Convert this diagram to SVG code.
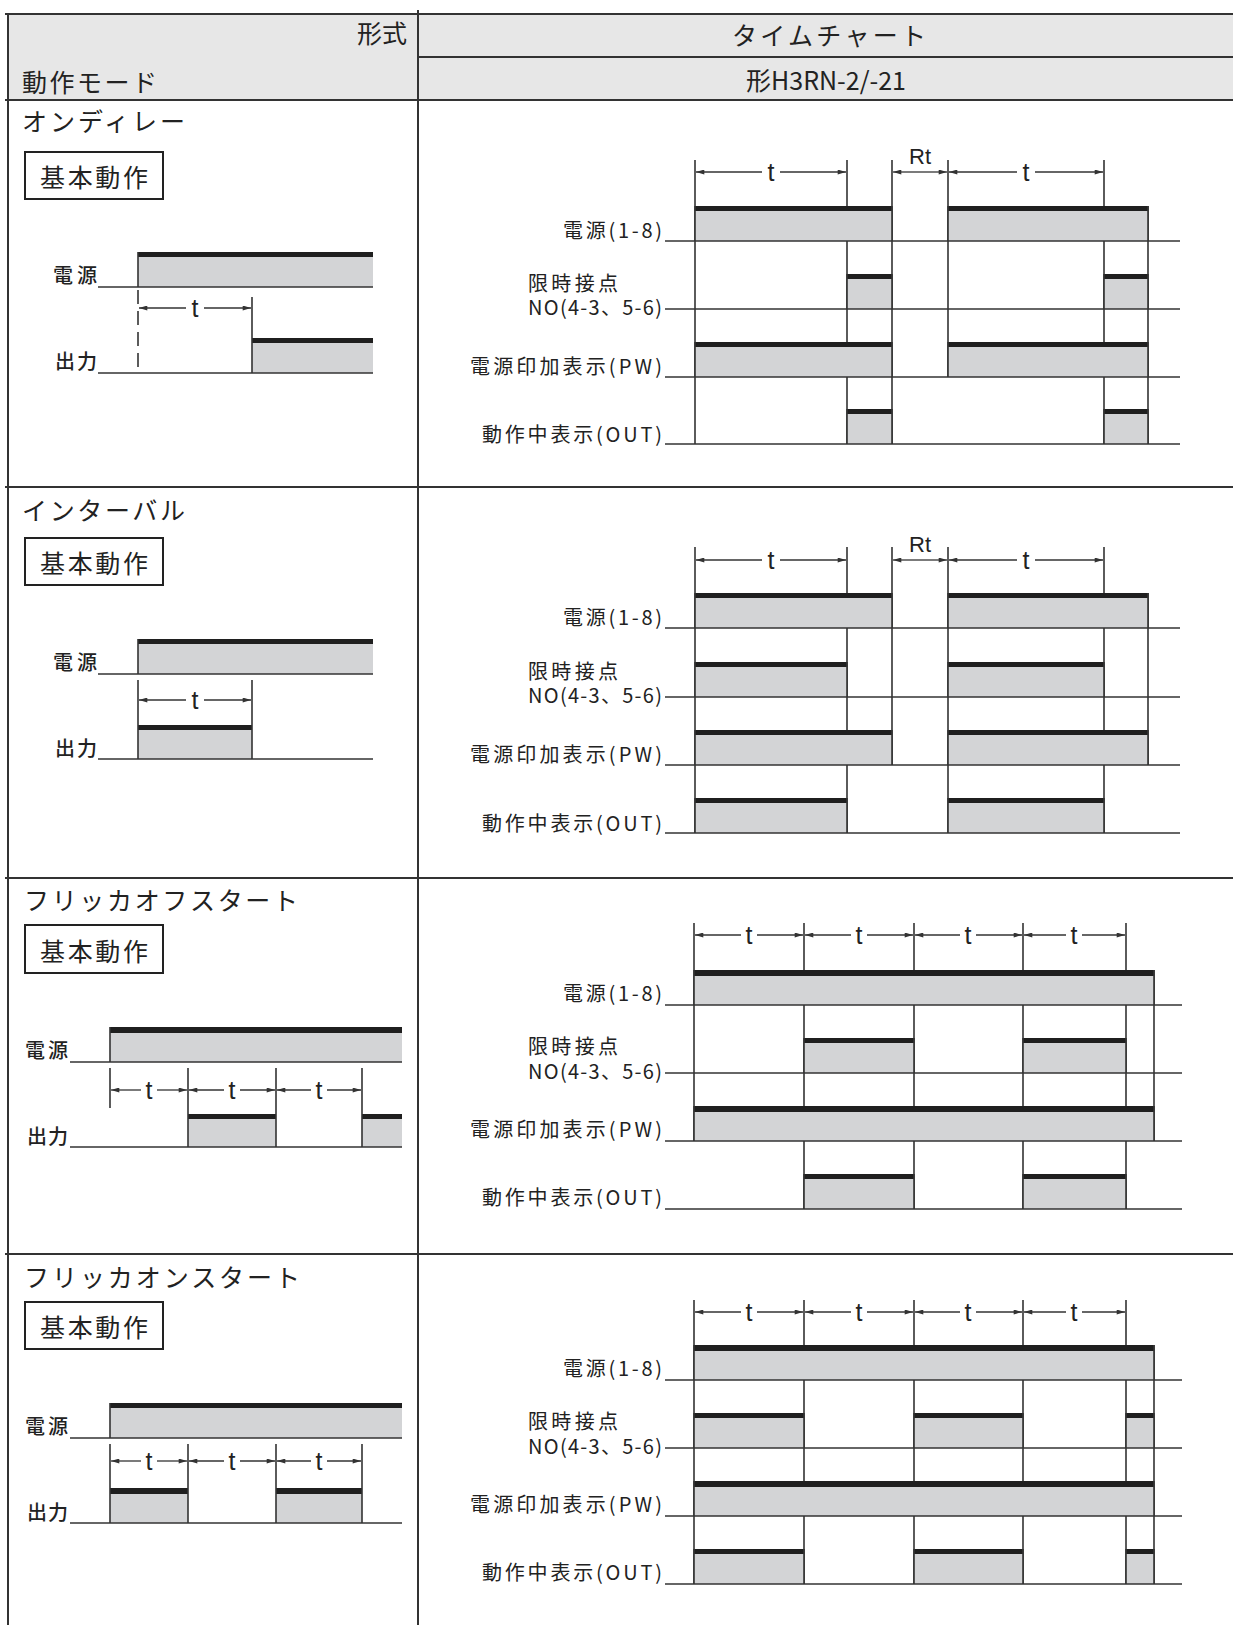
<svg xmlns="http://www.w3.org/2000/svg" width="1233" height="1625" viewBox="0 0 1233 1625">
<style>
text{font-family:"Noto Sans CJK JP","Noto Sans",sans-serif;fill:#222;font-weight:400}
.h{font-size:25px}
.ti{font-size:25px}
.lb{font-size:20px}
.ml{font-size:20px;font-weight:500}
.dt{font-size:25px;font-family:"Liberation Sans","Noto Sans",sans-serif;font-weight:400;text-anchor:middle}
.tb{stroke:#333;stroke-width:2;fill:none}
.gd{stroke:#333;stroke-width:1.6;fill:none}
.bl{stroke:#333;stroke-width:1.6;fill:none}
.fl{fill:#d3d4d6}
.tk{fill:#1f1f1f}
.dm{stroke:#333;stroke-width:1.3;fill:none;marker-end:url(#ah)}
.bx{stroke:#222;stroke-width:2;fill:#fff}
</style>
<defs>
<marker id="ah" viewBox="0 0 10 6" refX="10" refY="3" markerWidth="10" markerHeight="5" markerUnits="userSpaceOnUse" orient="auto"><path d="M0,0 L10,3 L0,6 z" fill="#333"/></marker>
</defs>
<rect x="0" y="0" width="1233" height="1625" fill="#fff"/>

<g id="table">
<rect x="8" y="14" width="1225" height="86" fill="#e7e7e7"/>
<line class="tb" x1="5" y1="14" x2="1233" y2="14"/>
<line class="tb" x1="418" y1="57" x2="1233" y2="57"/>
<line class="tb" x1="5" y1="100" x2="1233" y2="100"/>
<line class="tb" x1="5" y1="487" x2="1233" y2="487"/>
<line class="tb" x1="5" y1="878" x2="1233" y2="878"/>
<line class="tb" x1="5" y1="1254" x2="1233" y2="1254"/>
<line class="tb" x1="8" y1="14" x2="8" y2="1625"/>
<line class="tb" x1="418" y1="10" x2="418" y2="1625"/>
<text class="h" x="407" y="43" text-anchor="end">形式</text>
<text class="h" x="22" y="92" textLength="135" lengthAdjust="spacing">動作モード</text>
<text class="h" x="829" y="45" text-anchor="middle" textLength="194" lengthAdjust="spacing">タイムチャート</text>
<text class="h" x="826" y="90" text-anchor="middle">形H3RN-2/-21</text>
</g>

<!-- ============ Section 1 : On delay ============ -->
<g id="mode-ondelay">
<text class="ti" x="22" y="131" textLength="163" lengthAdjust="spacing">オンディレー</text>
<rect class="bx" x="25" y="152" width="138" height="47"/>
<text class="ti" x="40" y="187" textLength="108" lengthAdjust="spacing">基本動作</text>
<rect class="fl" x="138" y="252" width="235" height="35"/>
<rect class="tk" x="138" y="252" width="235" height="5"/>
<line class="gd" x1="138" y1="252" x2="138" y2="287"/>
<line class="bl" x1="98" y1="287" x2="373" y2="287"/>
<rect class="fl" x="252" y="338" width="121" height="35"/>
<rect class="tk" x="252" y="338" width="121" height="5"/>
<line class="gd" x1="252" y1="297" x2="252" y2="373"/>
<line class="gd" x1="138" y1="290" x2="138" y2="373" stroke-dasharray="14,7"/>
<line class="bl" x1="98" y1="373" x2="373" y2="373"/>
<line class="dm" x1="186" y1="308" x2="139" y2="308"/>
<line class="dm" x1="204" y1="308" x2="251" y2="308"/>
<text class="dt" x="195" y="317">t</text>
<text class="ml" x="97" y="283" text-anchor="end" textLength="44" lengthAdjust="spacing">電源</text>
<text class="ml" x="97" y="369" text-anchor="end" textLength="42" lengthAdjust="spacing">出力</text>
</g>
<g id="chart-ondelay">
<line class="gd" x1="695" y1="160" x2="695" y2="444"/>
<line class="gd" x1="847" y1="160" x2="847" y2="444"/>
<line class="gd" x1="892" y1="160" x2="892" y2="444"/>
<line class="gd" x1="948" y1="160" x2="948" y2="377"/>
<line class="gd" x1="1104" y1="160" x2="1104" y2="444"/>
<line class="gd" x1="1148" y1="206" x2="1148" y2="444"/>
<rect class="fl" x="695" y="206" width="197" height="35"/><rect class="tk" x="695" y="206" width="197" height="5"/>
<rect class="fl" x="948" y="206" width="200" height="35"/><rect class="tk" x="948" y="206" width="200" height="5"/>
<rect class="fl" x="847" y="274" width="45" height="35"/><rect class="tk" x="847" y="274" width="45" height="5"/>
<rect class="fl" x="1104" y="274" width="44" height="35"/><rect class="tk" x="1104" y="274" width="44" height="5"/>
<rect class="fl" x="695" y="342" width="197" height="35"/><rect class="tk" x="695" y="342" width="197" height="5"/>
<rect class="fl" x="948" y="342" width="200" height="35"/><rect class="tk" x="948" y="342" width="200" height="5"/>
<rect class="fl" x="847" y="409" width="45" height="35"/><rect class="tk" x="847" y="409" width="45" height="5"/>
<rect class="fl" x="1104" y="409" width="44" height="35"/><rect class="tk" x="1104" y="409" width="44" height="5"/>
<path class="gd" d="M695,206V241M892,206V241M948,206V241M1148,206V241M847,274V309M892,274V309M1104,274V309M1148,274V309M695,342V377M892,342V377M948,342V377M1148,342V377M847,409V444M892,409V444M1104,409V444M1148,409V444"/>
<line class="bl" x1="665" y1="241" x2="1180" y2="241"/>
<line class="bl" x1="665" y1="309" x2="1180" y2="309"/>
<line class="bl" x1="665" y1="377" x2="1180" y2="377"/>
<line class="bl" x1="665" y1="444" x2="1180" y2="444"/>
<line class="dm" x1="762" y1="172" x2="696" y2="172"/>
<line class="dm" x1="780" y1="172" x2="846" y2="172"/>
<text class="dt" x="771" y="181">t</text>
<line class="dm" x1="920" y1="172" x2="893" y2="172"/>
<line class="dm" x1="920" y1="172" x2="947" y2="172"/>
<text class="dt" x="920" y="164" style="font-size:22px">Rt</text>
<line class="dm" x1="1017" y1="172" x2="949" y2="172"/>
<line class="dm" x1="1035" y1="172" x2="1103" y2="172"/>
<text class="dt" x="1026" y="181">t</text>
<text class="lb" x="662" y="238" text-anchor="end" textLength="99" lengthAdjust="spacing">電源(1-8)</text>
<text class="lb" x="528" y="291" textLength="90" lengthAdjust="spacing">限時接点</text>
<text class="lb" x="662" y="315" text-anchor="end" textLength="134" lengthAdjust="spacing">NO(4-3、5-6)</text>
<text class="lb" x="662" y="374" text-anchor="end" textLength="192" lengthAdjust="spacing">電源印加表示(PW)</text>
<text class="lb" x="662" y="442" text-anchor="end" textLength="180" lengthAdjust="spacing">動作中表示(OUT)</text>
</g>

<!-- ============ Section 2 : Interval ============ -->
<g id="mode-interval">
<text class="ti" x="22" y="520" textLength="163" lengthAdjust="spacing">インターバル</text>
<rect class="bx" x="25" y="538" width="138" height="47"/>
<text class="ti" x="40" y="573" textLength="108" lengthAdjust="spacing">基本動作</text>
<rect class="fl" x="138" y="639" width="235" height="35"/>
<rect class="tk" x="138" y="639" width="235" height="5"/>
<line class="gd" x1="138" y1="639" x2="138" y2="674"/>
<line class="bl" x1="98" y1="674" x2="373" y2="674"/>
<rect class="fl" x="138" y="725" width="114" height="34"/>
<rect class="tk" x="138" y="725" width="114" height="5"/>
<line class="gd" x1="138" y1="680" x2="138" y2="759"/>
<line class="gd" x1="252" y1="680" x2="252" y2="759"/>
<line class="bl" x1="98" y1="759" x2="373" y2="759"/>
<line class="dm" x1="186" y1="700" x2="139" y2="700"/>
<line class="dm" x1="204" y1="700" x2="251" y2="700"/>
<text class="dt" x="195" y="709">t</text>
<text class="ml" x="97" y="670" text-anchor="end" textLength="44" lengthAdjust="spacing">電源</text>
<text class="ml" x="97" y="756" text-anchor="end" textLength="42" lengthAdjust="spacing">出力</text>
</g>
<g id="chart-interval">
<line class="gd" x1="695" y1="547" x2="695" y2="833"/>
<line class="gd" x1="847" y1="547" x2="847" y2="833"/>
<line class="gd" x1="892" y1="547" x2="892" y2="765"/>
<line class="gd" x1="948" y1="547" x2="948" y2="833"/>
<line class="gd" x1="1104" y1="547" x2="1104" y2="833"/>
<line class="gd" x1="1148" y1="593" x2="1148" y2="765"/>
<rect class="fl" x="695" y="593" width="197" height="35"/><rect class="tk" x="695" y="593" width="197" height="5"/>
<rect class="fl" x="948" y="593" width="200" height="35"/><rect class="tk" x="948" y="593" width="200" height="5"/>
<rect class="fl" x="695" y="662" width="152" height="35"/><rect class="tk" x="695" y="662" width="152" height="5"/>
<rect class="fl" x="948" y="662" width="156" height="35"/><rect class="tk" x="948" y="662" width="156" height="5"/>
<rect class="fl" x="695" y="730" width="197" height="35"/><rect class="tk" x="695" y="730" width="197" height="5"/>
<rect class="fl" x="948" y="730" width="200" height="35"/><rect class="tk" x="948" y="730" width="200" height="5"/>
<rect class="fl" x="695" y="798" width="152" height="35"/><rect class="tk" x="695" y="798" width="152" height="5"/>
<rect class="fl" x="948" y="798" width="156" height="35"/><rect class="tk" x="948" y="798" width="156" height="5"/>
<path class="gd" d="M695,593V628M892,593V628M948,593V628M1148,593V628M695,662V697M847,662V697M948,662V697M1104,662V697M695,730V765M892,730V765M948,730V765M1148,730V765M695,798V833M847,798V833M948,798V833M1104,798V833"/>
<line class="bl" x1="665" y1="628" x2="1180" y2="628"/>
<line class="bl" x1="665" y1="697" x2="1180" y2="697"/>
<line class="bl" x1="665" y1="765" x2="1180" y2="765"/>
<line class="bl" x1="665" y1="833" x2="1180" y2="833"/>
<line class="dm" x1="762" y1="560" x2="696" y2="560"/>
<line class="dm" x1="780" y1="560" x2="846" y2="560"/>
<text class="dt" x="771" y="569">t</text>
<line class="dm" x1="920" y1="560" x2="893" y2="560"/>
<line class="dm" x1="920" y1="560" x2="947" y2="560"/>
<text class="dt" x="920" y="552" style="font-size:22px">Rt</text>
<line class="dm" x1="1017" y1="560" x2="949" y2="560"/>
<line class="dm" x1="1035" y1="560" x2="1103" y2="560"/>
<text class="dt" x="1026" y="569">t</text>
<text class="lb" x="662" y="625" text-anchor="end" textLength="99" lengthAdjust="spacing">電源(1-8)</text>
<text class="lb" x="528" y="679" textLength="90" lengthAdjust="spacing">限時接点</text>
<text class="lb" x="662" y="703" text-anchor="end" textLength="134" lengthAdjust="spacing">NO(4-3、5-6)</text>
<text class="lb" x="662" y="762" text-anchor="end" textLength="192" lengthAdjust="spacing">電源印加表示(PW)</text>
<text class="lb" x="662" y="831" text-anchor="end" textLength="180" lengthAdjust="spacing">動作中表示(OUT)</text>
</g>

<!-- ============ Section 3 : Flicker off start ============ -->
<g id="mode-flicker-off">
<text class="ti" x="24" y="910" textLength="274" lengthAdjust="spacing">フリッカオフスタート</text>
<rect class="bx" x="25" y="925" width="138" height="48"/>
<text class="ti" x="40" y="961" textLength="108" lengthAdjust="spacing">基本動作</text>
<rect class="fl" x="110" y="1027" width="292" height="35"/>
<rect class="tk" x="110" y="1027" width="292" height="6"/>
<line class="gd" x1="110" y1="1027" x2="110" y2="1062"/>
<line class="bl" x1="70" y1="1062" x2="402" y2="1062"/>
<rect class="fl" x="188" y="1114" width="88" height="33"/><rect class="tk" x="188" y="1114" width="88" height="5"/>
<rect class="fl" x="362" y="1114" width="40" height="33"/><rect class="tk" x="362" y="1114" width="40" height="5"/>
<line class="gd" x1="110" y1="1068" x2="110" y2="1108"/>
<line class="gd" x1="188" y1="1068" x2="188" y2="1147"/>
<line class="gd" x1="276" y1="1068" x2="276" y2="1147"/>
<line class="gd" x1="362" y1="1068" x2="362" y2="1147"/>
<line class="bl" x1="70" y1="1147" x2="402" y2="1147"/>
<line class="dm" x1="141" y1="1090" x2="111" y2="1090"/>
<line class="dm" x1="157" y1="1090" x2="187" y2="1090"/>
<text class="dt" x="149" y="1099">t</text>
<line class="dm" x1="224" y1="1090" x2="189" y2="1090"/>
<line class="dm" x1="240" y1="1090" x2="275" y2="1090"/>
<text class="dt" x="232" y="1099">t</text>
<line class="dm" x1="311" y1="1090" x2="277" y2="1090"/>
<line class="dm" x1="327" y1="1090" x2="361" y2="1090"/>
<text class="dt" x="319" y="1099">t</text>
<text class="ml" x="68" y="1058" text-anchor="end" textLength="43" lengthAdjust="spacing">電源</text>
<text class="ml" x="68" y="1144" text-anchor="end" textLength="41" lengthAdjust="spacing">出力</text>
</g>
<g id="chart-flicker-off">
<line class="gd" x1="694" y1="923" x2="694" y2="1141"/>
<line class="gd" x1="804" y1="923" x2="804" y2="1209"/>
<line class="gd" x1="914" y1="923" x2="914" y2="1209"/>
<line class="gd" x1="1023" y1="923" x2="1023" y2="1209"/>
<line class="gd" x1="1126" y1="923" x2="1126" y2="1209"/>
<line class="gd" x1="1154" y1="970" x2="1154" y2="1141"/>
<rect class="fl" x="694" y="970" width="460" height="35"/><rect class="tk" x="694" y="970" width="460" height="6"/>
<rect class="fl" x="804" y="1038" width="110" height="35"/><rect class="tk" x="804" y="1038" width="110" height="5"/>
<rect class="fl" x="1023" y="1038" width="103" height="35"/><rect class="tk" x="1023" y="1038" width="103" height="5"/>
<rect class="fl" x="694" y="1106" width="460" height="35"/><rect class="tk" x="694" y="1106" width="460" height="6"/>
<rect class="fl" x="804" y="1174" width="110" height="35"/><rect class="tk" x="804" y="1174" width="110" height="5"/>
<rect class="fl" x="1023" y="1174" width="103" height="35"/><rect class="tk" x="1023" y="1174" width="103" height="5"/>
<path class="gd" d="M694,970V1005M1154,970V1005M804,1038V1073M914,1038V1073M1023,1038V1073M1126,1038V1073M694,1106V1141M1154,1106V1141M804,1174V1209M914,1174V1209M1023,1174V1209M1126,1174V1209"/>
<line class="bl" x1="665" y1="1005" x2="1182" y2="1005"/>
<line class="bl" x1="665" y1="1073" x2="1182" y2="1073"/>
<line class="bl" x1="665" y1="1141" x2="1182" y2="1141"/>
<line class="bl" x1="665" y1="1209" x2="1182" y2="1209"/>
<line class="dm" x1="741" y1="935" x2="695" y2="935"/>
<line class="dm" x1="757" y1="935" x2="803" y2="935"/>
<text class="dt" x="749" y="944">t</text>
<line class="dm" x1="851" y1="935" x2="805" y2="935"/>
<line class="dm" x1="867" y1="935" x2="913" y2="935"/>
<text class="dt" x="859" y="944">t</text>
<line class="dm" x1="960" y1="935" x2="915" y2="935"/>
<line class="dm" x1="976" y1="935" x2="1022" y2="935"/>
<text class="dt" x="968" y="944">t</text>
<line class="dm" x1="1066" y1="935" x2="1024" y2="935"/>
<line class="dm" x1="1082" y1="935" x2="1125" y2="935"/>
<text class="dt" x="1074" y="944">t</text>
<text class="lb" x="662" y="1001" text-anchor="end" textLength="99" lengthAdjust="spacing">電源(1-8)</text>
<text class="lb" x="528" y="1054" textLength="90" lengthAdjust="spacing">限時接点</text>
<text class="lb" x="662" y="1079" text-anchor="end" textLength="134" lengthAdjust="spacing">NO(4-3、5-6)</text>
<text class="lb" x="662" y="1137" text-anchor="end" textLength="192" lengthAdjust="spacing">電源印加表示(PW)</text>
<text class="lb" x="662" y="1205" text-anchor="end" textLength="180" lengthAdjust="spacing">動作中表示(OUT)</text>
</g>

<!-- ============ Section 4 : Flicker on start ============ -->
<g id="mode-flicker-on">
<text class="ti" x="24" y="1287" textLength="276" lengthAdjust="spacing">フリッカオンスタート</text>
<rect class="bx" x="25" y="1302" width="138" height="47"/>
<text class="ti" x="40" y="1337" textLength="108" lengthAdjust="spacing">基本動作</text>
<rect class="fl" x="110" y="1403" width="292" height="35"/>
<rect class="tk" x="110" y="1403" width="292" height="5"/>
<line class="gd" x1="110" y1="1403" x2="110" y2="1438"/>
<line class="bl" x1="70" y1="1438" x2="402" y2="1438"/>
<rect class="fl" x="110" y="1488" width="78" height="35"/><rect class="tk" x="110" y="1488" width="78" height="6"/>
<rect class="fl" x="276" y="1488" width="86" height="35"/><rect class="tk" x="276" y="1488" width="86" height="6"/>
<line class="gd" x1="110" y1="1444" x2="110" y2="1523"/>
<line class="gd" x1="188" y1="1444" x2="188" y2="1523"/>
<line class="gd" x1="276" y1="1444" x2="276" y2="1523"/>
<line class="gd" x1="362" y1="1444" x2="362" y2="1523"/>
<line class="bl" x1="70" y1="1523" x2="402" y2="1523"/>
<line class="dm" x1="141" y1="1461" x2="111" y2="1461"/>
<line class="dm" x1="157" y1="1461" x2="187" y2="1461"/>
<text class="dt" x="149" y="1470">t</text>
<line class="dm" x1="224" y1="1461" x2="189" y2="1461"/>
<line class="dm" x1="240" y1="1461" x2="275" y2="1461"/>
<text class="dt" x="232" y="1470">t</text>
<line class="dm" x1="311" y1="1461" x2="277" y2="1461"/>
<line class="dm" x1="327" y1="1461" x2="361" y2="1461"/>
<text class="dt" x="319" y="1470">t</text>
<text class="ml" x="68" y="1434" text-anchor="end" textLength="43" lengthAdjust="spacing">電源</text>
<text class="ml" x="68" y="1520" text-anchor="end" textLength="41" lengthAdjust="spacing">出力</text>
</g>
<g id="chart-flicker-on">
<line class="gd" x1="694" y1="1300" x2="694" y2="1584"/>
<line class="gd" x1="804" y1="1300" x2="804" y2="1584"/>
<line class="gd" x1="914" y1="1300" x2="914" y2="1584"/>
<line class="gd" x1="1023" y1="1300" x2="1023" y2="1584"/>
<line class="gd" x1="1126" y1="1300" x2="1126" y2="1584"/>
<line class="gd" x1="1154" y1="1345" x2="1154" y2="1584"/>
<rect class="fl" x="694" y="1345" width="460" height="35"/><rect class="tk" x="694" y="1345" width="460" height="6"/>
<rect class="fl" x="694" y="1413" width="110" height="35"/><rect class="tk" x="694" y="1413" width="110" height="5"/>
<rect class="fl" x="914" y="1413" width="109" height="35"/><rect class="tk" x="914" y="1413" width="109" height="5"/>
<rect class="fl" x="1126" y="1413" width="28" height="35"/><rect class="tk" x="1126" y="1413" width="28" height="5"/>
<rect class="fl" x="694" y="1481" width="460" height="35"/><rect class="tk" x="694" y="1481" width="460" height="6"/>
<rect class="fl" x="694" y="1549" width="110" height="35"/><rect class="tk" x="694" y="1549" width="110" height="5"/>
<rect class="fl" x="914" y="1549" width="109" height="35"/><rect class="tk" x="914" y="1549" width="109" height="5"/>
<rect class="fl" x="1126" y="1549" width="28" height="35"/><rect class="tk" x="1126" y="1549" width="28" height="5"/>
<path class="gd" d="M694,1345V1380M1154,1345V1380M694,1413V1448M804,1413V1448M914,1413V1448M1023,1413V1448M1126,1413V1448M1154,1413V1448M694,1481V1516M1154,1481V1516M694,1549V1584M804,1549V1584M914,1549V1584M1023,1549V1584M1126,1549V1584M1154,1549V1584"/>
<line class="bl" x1="665" y1="1380" x2="1182" y2="1380"/>
<line class="bl" x1="665" y1="1448" x2="1182" y2="1448"/>
<line class="bl" x1="665" y1="1516" x2="1182" y2="1516"/>
<line class="bl" x1="665" y1="1584" x2="1182" y2="1584"/>
<line class="dm" x1="741" y1="1312" x2="695" y2="1312"/>
<line class="dm" x1="757" y1="1312" x2="803" y2="1312"/>
<text class="dt" x="749" y="1321">t</text>
<line class="dm" x1="851" y1="1312" x2="805" y2="1312"/>
<line class="dm" x1="867" y1="1312" x2="913" y2="1312"/>
<text class="dt" x="859" y="1321">t</text>
<line class="dm" x1="960" y1="1312" x2="915" y2="1312"/>
<line class="dm" x1="976" y1="1312" x2="1022" y2="1312"/>
<text class="dt" x="968" y="1321">t</text>
<line class="dm" x1="1066" y1="1312" x2="1024" y2="1312"/>
<line class="dm" x1="1082" y1="1312" x2="1125" y2="1312"/>
<text class="dt" x="1074" y="1321">t</text>
<text class="lb" x="662" y="1376" text-anchor="end" textLength="99" lengthAdjust="spacing">電源(1-8)</text>
<text class="lb" x="528" y="1429" textLength="90" lengthAdjust="spacing">限時接点</text>
<text class="lb" x="662" y="1454" text-anchor="end" textLength="134" lengthAdjust="spacing">NO(4-3、5-6)</text>
<text class="lb" x="662" y="1512" text-anchor="end" textLength="192" lengthAdjust="spacing">電源印加表示(PW)</text>
<text class="lb" x="662" y="1580" text-anchor="end" textLength="180" lengthAdjust="spacing">動作中表示(OUT)</text>
</g>
</svg>
